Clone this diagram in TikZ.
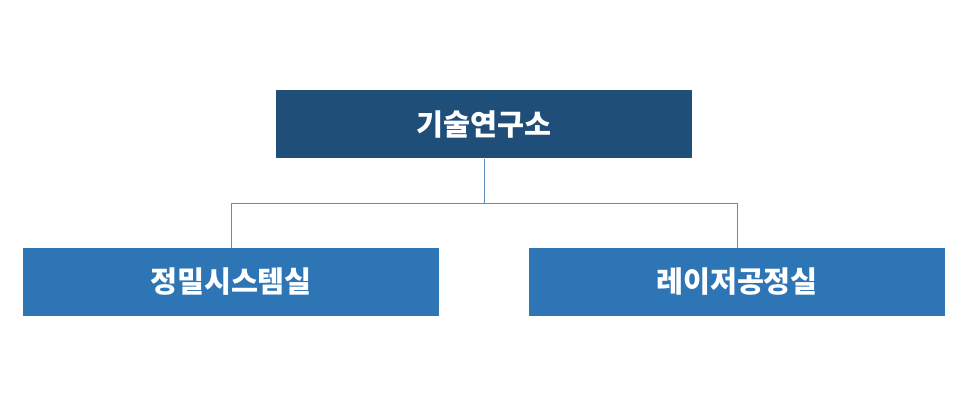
\documentclass[tikz,border=0pt]{standalone}
\usepackage{fontspec}
\newfontfamily\cjk{Noto Sans CJK KR}[FakeBold=0]
\usetikzlibrary{positioning}
\definecolor{topblue}{HTML}{1F4E79}
\definecolor{subblue}{HTML}{2E75B6}
\definecolor{linkblue}{HTML}{5B8DC0}
\begin{document}
\begin{tikzpicture}[x=0.75pt,y=-0.75pt,
  unit/.style={rectangle, draw=none, minimum width=312pt, minimum height=51pt, text=white, font=\cjk\bfseries\fontsize{22}{26}\selectfont},
  link/.style={draw=linkblue, line width=0.6pt}]
	\useasboundingbox (0,0) rectangle (966,402);
	% nodes
	\node[unit, fill=topblue] (lab) at (484,124.5) {기술연구소};
	\node[unit, fill=subblue] (precision) at (231,282) {정밀시스템실};
	\node[unit, fill=subblue] (laser) at (737,282) {레이저공정실};

	% edges
	\coordinate (split) at (484,203);
	\draw[link] (lab.south) -- (split);
	\draw[link] (split) -| (precision.north);
	\draw[link] (split) -| (laser.north);
\end{tikzpicture}
\end{document}
